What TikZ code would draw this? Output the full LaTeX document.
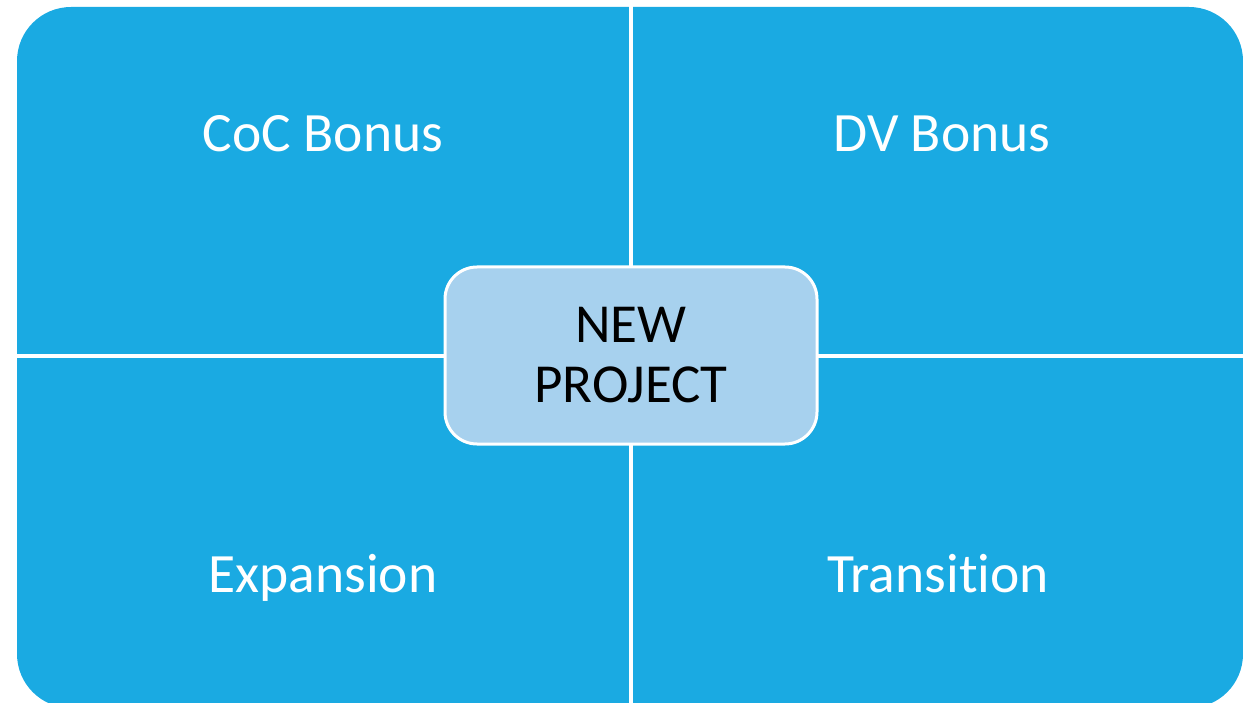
\documentclass[tikz,border=0pt]{standalone}
\usepackage{fontspec}
\setmainfont{Carlito}[RawFeature={-liga}]
\definecolor{qblue}{HTML}{1AAAE2}
\definecolor{cblue}{HTML}{A7D1EE}
\begin{document}
\begin{tikzpicture}[x=1pt,y=-1pt,
  qlabel/.style={anchor=base,text=white,font=\fontsize{55.5}{60}\selectfont,inner sep=0pt},
  centerbox/.style={draw=white,line width=3pt,fill=cblue,rounded corners=32pt,
    minimum width=372pt,minimum height=177pt,align=center,
    font=\fontsize{55}{60}\selectfont,text=black,inner sep=0pt},
  divider/.style={draw=white,line width=4pt}]
\useasboundingbox (0,0) rectangle (1243,703);
\fill[qblue,rounded corners=54pt] (17,7) rectangle (1243,708);
\coordinate (top) at (631,0);
\coordinate (bot) at (631,703);
\coordinate (lft) at (17,356);
\coordinate (rgt) at (1243,356);
\draw[divider] (top) -- (bot);
\draw[divider] (lft) -- (rgt);
\node[qlabel] (coc) at (323,152) {CoC Bonus};
\node[qlabel] (dv) at (942,152) {DV Bonus};
\node[qlabel] (exp) at (323,592) {Expansion};
\node[qlabel] (tra) at (938,592) {Transition};
\node[centerbox] (np) at (631,355.5) {NEW\\[0pt]PROJECT};
\end{tikzpicture}
\end{document}
